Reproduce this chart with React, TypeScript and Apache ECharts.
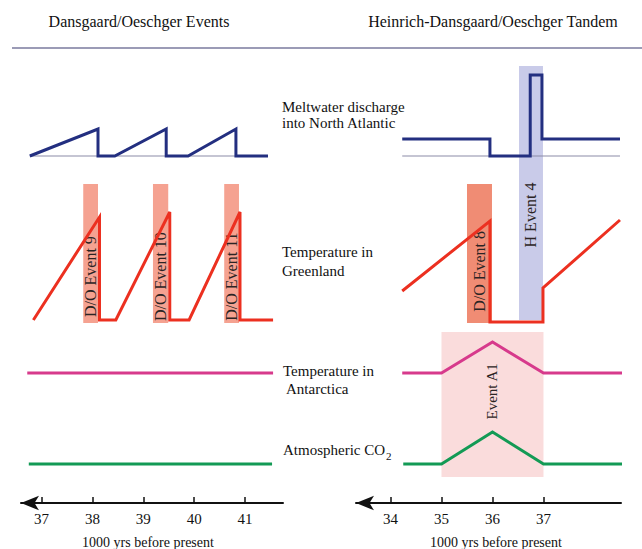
import React, { useEffect, useRef } from "react";
import * as echarts from "echarts";

// ---------- axis ticks (1000 yrs before present) ----------
const leftTicks = [37, 38, 39, 40, 41];
const rightTicks = [34, 35, 36, 37];

// ---------- left panel: Dansgaard/Oeschger events (x: kyr BP, y: relative level) ----------
const leftMeltwater = [
  [36.77, 86.75], [38.11, 93.5], [38.11, 86.75], [38.44, 86.75], [39.45, 93.5],
  [39.45, 86.75], [39.88, 86.75], [40.82, 93.5], [40.82, 86.75], [41.45, 86.75],
];
const leftMeltBase = [[36.77, 86.75], [41.45, 86.75]];
const leftGreenland = [
  [36.84, 45.75], [38.14, 71.5], [38.14, 45.75], [38.46, 45.75], [39.52, 72.75],
  [39.52, 45.75], [39.9, 45.75], [40.9, 72.75], [40.9, 45.75], [41.55, 45.75],
];
const leftAntarctica = [[36.72, 32.5], [41.55, 32.5]];
const leftCO2 = [[36.75, 9.75], [41.53, 9.75]];
const leftEventNames = ["D/O Event 9", "D/O Event 10", "D/O Event 11"];
// [from, to, low, high]
const leftEvents = [
  [37.82, 38.11, 45, 79.75],
  [39.19, 39.49, 45, 79.75],
  [40.59, 40.88, 45, 79.75],
];

// ---------- right panel: Heinrich-Dansgaard/Oeschger tandem ----------
const rightMeltwater = [
  [34.23, 91], [35.95, 91], [35.95, 86.75], [36.74, 86.75], [36.74, 107],
  [36.97, 107], [36.97, 91], [38.5, 91],
];
const rightMeltBase = [[34.23, 86.75], [38.5, 86.75]];
const rightGreenland = [
  [34.23, 53], [35.95, 70.5], [35.95, 45.25], [36.99, 45.25], [36.99, 53.75], [38.5, 70.75],
];
const rightAntarctica = [[34.23, 32.5], [35.0, 32.5], [36.0, 40.25], [37.0, 32.5], [38.54, 32.5]];
const rightCO2 = [[34.25, 9.75], [35.0, 9.75], [36.0, 17.75], [37.0, 9.75], [38.54, 9.75]];
const rightEventNames = ["Event A1", "D/O Event 8", "H Event 4"];
const rightEvents = [
  [35.0, 37.0, 6.5, 42.75],
  [35.5, 35.99, 45, 79.75],
  [36.52, 36.99, 45.75, 109.25],
];

// ---------- styling / placement ----------
const FONT = '"Liberation Serif", "Times New Roman", serif';
const BLUE = "#232f80";
const RED = "#ec3020";
const MAGENTA = "#d73a8c";
const GREEN = "#139a55";
const BASE = "#8c8ca8";
const leftBandColors = ["#f5a291", "#f5a291", "#f5a291"];
const rightBandColors = ["#fadcdc", "#f08c74", "#c9cbe9"];
const leftLabelLevels = [56.6, 56.6, 56.6];
const rightLabelLevels = [27.9, 57.9, 72];
const rightLabelSizes = [15, 16, 16];

function bandSeries(
  data: number[][],
  names: string[],
  colors: string[],
  levels: number[],
  sizes: number[] | null,
  axisIndex: number
) {
  return {
    type: "custom",
    xAxisIndex: axisIndex,
    yAxisIndex: axisIndex,
    silent: true,
    z: 1,
    data,
    renderItem: (params: any, api: any) => {
      const i = params.dataIndex;
      const p0 = api.coord([api.value(0), api.value(3)]);
      const p1 = api.coord([api.value(1), api.value(2)]);
      const ly = api.coord([api.value(0), levels[i]])[1];
      const cx = (p0[0] + p1[0]) / 2;
      const fs = sizes ? sizes[i] : 16;
      return {
        type: "group",
        children: [
          {
            type: "rect",
            shape: { x: p0[0], y: p0[1], width: p1[0] - p0[0], height: p1[1] - p0[1] },
            style: { fill: colors[i] },
          },
          {
            type: "text",
            x: cx,
            y: ly,
            rotation: Math.PI / 2,
            z2: 10,
            style: {
              text: names[i],
              fill: "#2b2424",
              font: `${fs}px ${FONT}`,
              align: "center",
              verticalAlign: "middle",
            },
          },
        ],
      };
    },
  };
}

function lineSeries(data: number[][], color: string, width: number, axisIndex: number, z = 3) {
  return {
    type: "line",
    xAxisIndex: axisIndex,
    yAxisIndex: axisIndex,
    data,
    symbol: "none",
    showSymbol: false,
    silent: true,
    z,
    lineStyle: { color, width, join: "miter", cap: "butt" },
  };
}

function xAxisFor(gridIndex: number, min: number, max: number, ticks: number[]) {
  return {
    type: "value",
    gridIndex,
    min,
    max,
    position: "bottom",
    splitLine: { show: false },
    axisLine: {
      show: true,
      onZero: false,
      symbol: ["arrow", "none"],
      symbolSize: [11, 18],
      lineStyle: { color: "#111", width: 2 },
    },
    axisTick: {
      show: true,
      inside: true,
      length: 6,
      customValues: ticks,
      lineStyle: { color: "#111", width: 1.5 },
    },
    axisLabel: {
      show: true,
      customValues: ticks,
      fontSize: 15,
      fontFamily: FONT,
      color: "#111",
      margin: 8,
    },
  };
}

function yAxisFor(gridIndex: number) {
  return { type: "value", gridIndex, min: 0, max: 110, show: false };
}

function txt(x: number, y: number, text: string, size: number, align = "left", lineHeight?: number) {
  return {
    type: "text",
    x,
    y,
    style: {
      text,
      font: `${size}px ${FONT}`,
      fill: "#111",
      align,
      verticalAlign: "middle",
      lineHeight: lineHeight || size + 2,
    },
  };
}

export default function App() {
  const ref = useRef<HTMLDivElement>(null);

  useEffect(() => {
    if (!ref.current) return;
    const chart = echarts.init(ref.current, undefined, { renderer: "svg" });
    chart.setOption({
      animation: false,
      backgroundColor: "#ffffff",
      textStyle: { fontFamily: FONT },
      grid: [
        { left: 21, right: 359, top: 63, bottom: 46 },
        { left: 356, right: 21, top: 63, bottom: 46 },
      ],
      xAxis: [xAxisFor(0, 36.597, 41.745, leftTicks), xAxisFor(1, 33.3235, 38.52, rightTicks)],
      yAxis: [yAxisFor(0), yAxisFor(1)],
      series: [
        bandSeries(leftEvents, leftEventNames, leftBandColors, leftLabelLevels, null, 0),
        bandSeries(rightEvents, rightEventNames, rightBandColors, rightLabelLevels, rightLabelSizes, 1),
        lineSeries(leftMeltBase, BASE, 1.2, 0, 2),
        lineSeries(rightMeltBase, BASE, 1.2, 1, 2),
        lineSeries(leftMeltwater, BLUE, 3, 0),
        lineSeries(rightMeltwater, BLUE, 3, 1),
        lineSeries(leftGreenland, RED, 3, 0),
        lineSeries(rightGreenland, RED, 3, 1),
        lineSeries(leftAntarctica, MAGENTA, 3, 0),
        lineSeries(rightAntarctica, MAGENTA, 3, 1),
        lineSeries(leftCO2, GREEN, 3, 0),
        lineSeries(rightCO2, GREEN, 3, 1),
      ],
      graphic: [
        txt(139, 21, "Dansgaard/Oeschger Events", 16, "center"),
        txt(493, 21, "Heinrich-Dansgaard/Oeschger Tandem", 16, "center"),
        {
          type: "line",
          shape: { x1: 12, y1: 48, x2: 642, y2: 48 },
          style: { stroke: "#9b9bb6", lineWidth: 2 },
        },
        txt(282, 107, "Meltwater discharge", 15),
        txt(282, 123, "into North Atlantic", 15),
        txt(282, 252, "Temperature in", 15),
        txt(282, 271, "Greenland", 15),
        txt(283, 371, "Temperature in", 15),
        txt(286, 389, "Antarctica", 15),
        txt(283, 450, "Atmospheric CO", 15),
        txt(386, 456, "2", 11),
        txt(148, 542, "1000 yrs before present", 14, "center"),
        txt(496, 542, "1000 yrs before present", 14, "center"),
      ],
    });
    return () => chart.dispose();
  }, []);

  return (
    <div
      ref={ref}
      style={{ position: "fixed", left: 0, top: 0, width: 642, height: 549, background: "#fff" }}
    />
  );
}
